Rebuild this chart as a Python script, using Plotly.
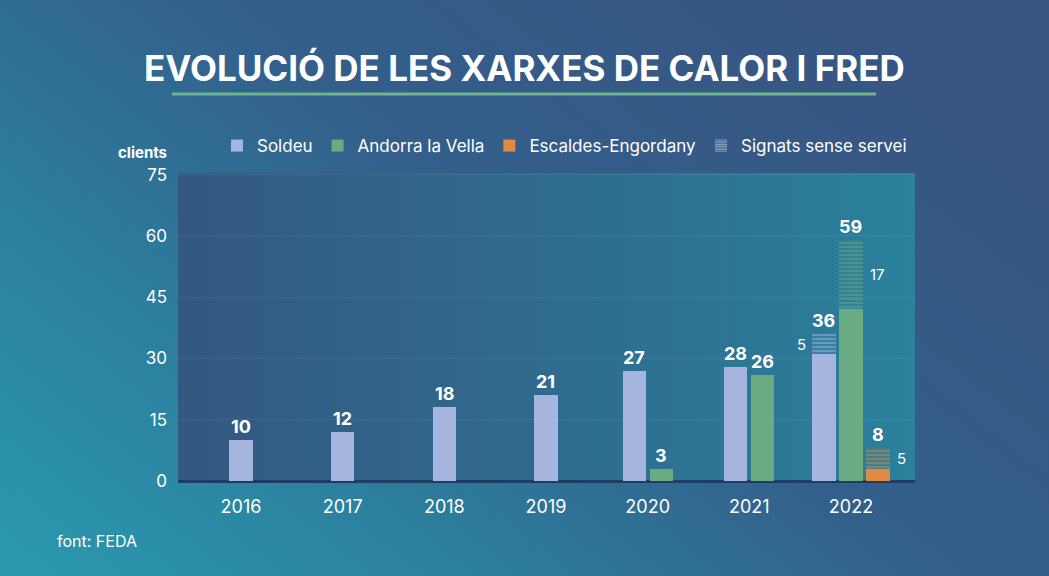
import base64
import plotly.graph_objects as go

# ---------------- data ----------------
years = ["2016", "2017", "2018", "2019", "2020", "2021", "2022"]
series_names = ["Soldeu", "Andorra la Vella", "Escaldes-Engordany"]
soldeu = [10, 12, 18, 21, 27, 28, 31]
andorra = [None, None, None, None, 3, 26, 42]
escaldes = [None, None, None, None, None, None, 3]
# signed clients without service yet (stacked, hatched)
soldeu_pending = [None, None, None, None, None, None, 5]
andorra_pending = [None, None, None, None, None, None, 17]
escaldes_pending = [None, None, None, None, None, None, 5]
y_ticks = [0, 15, 30, 45, 60, 75]
title_text = "EVOLUCIÓ DE LES XARXES DE CALOR I FRED"
legend_pending = "Signats sense servei"
source_text = "font: FEDA"
y_label = "clients"

colors = ["#a5b5de", "#6aab81", "#e08a44"]

# ---------------- geometry ----------------
W, H = 1049, 576
ML, MR, MT, MB = 178, 134, 173, 95
PW, PH = W - ML - MR, H - MT - MB
BAR_W = 0.228
STEP = 0.266
FONT = "Inter, Open Sans, sans-serif"

solid = [soldeu, andorra, escaldes]
pending = [soldeu_pending, andorra_pending, escaldes_pending]


def positions():
    """x position of every bar: bars of each year are centred on the year."""
    pos = [[None] * len(years) for _ in solid]
    for i in range(len(years)):
        present = [s for s in range(len(solid)) if solid[s][i] is not None]
        n = len(present)
        for k, s in enumerate(present):
            pos[s][i] = i + (k - (n - 1) / 2) * STEP
    return pos


pos = positions()

fig = go.Figure()

# solid bars
for s, name in enumerate(series_names):
    xs = [pos[s][i] for i in range(len(years)) if solid[s][i] is not None]
    ys = [solid[s][i] for i in range(len(years)) if solid[s][i] is not None]
    fig.add_trace(go.Bar(x=xs, y=ys, name=name, width=BAR_W,
                         marker=dict(color=colors[s], line=dict(width=0)),
                         hoverinfo="skip"))

# hatched pending parts
for s in range(len(series_names)):
    xs, ys, bs = [], [], []
    for i in range(len(years)):
        if pending[s][i] is not None:
            xs.append(pos[s][i]); ys.append(pending[s][i]); bs.append(solid[s][i])
    fig.add_trace(go.Bar(x=xs, y=ys, base=bs, width=BAR_W, showlegend=False,
                         marker=dict(color=colors[s], line=dict(width=0),
                                     pattern=dict(shape="-", size=4, solidity=0.6,
                                                  fillmode="overlay",
                                                  bgcolor="rgba(0,0,0,0)",
                                                  fgcolor=colors[s])),
                         hoverinfo="skip"))

# legend entry for hatched
fig.add_trace(go.Bar(x=[None], y=[None], name=legend_pending,
                     marker=dict(color="white", line=dict(width=0),
                                 pattern=dict(shape="-", size=3, solidity=0.55,
                                              fillmode="overlay",
                                              bgcolor="rgba(0,0,0,0)",
                                              fgcolor="white"))))

annotations = []
# total labels
for s in range(len(series_names)):
    for i in range(len(years)):
        if solid[s][i] is None:
            continue
        total = solid[s][i] + (pending[s][i] or 0)
        annotations.append(dict(x=pos[s][i], y=total, xref="x", yref="y",
                                text=f"<b>{total}</b>", showarrow=False,
                                yanchor="bottom", yshift=1,
                                font=dict(family=FONT, size=18, color="white", weight=800)))
        if pending[s][i] is not None:
            mid = solid[s][i] + pending[s][i] / 2
            left = (s == 0)
            annotations.append(dict(x=pos[s][i] + (-1 if left else 1) * BAR_W / 2, y=mid,
                                    xref="x", yref="y", text=str(pending[s][i]),
                                    showarrow=False,
                                    xanchor="right" if left else "left",
                                    xshift=-4 if left else 5,
                                    font=dict(family=FONT, size=15, color="white")))

annotations += [
    dict(x=0.5, y=(H - MB - 68) / PH, xref="paper", yref="paper",
         text=f"<b>{title_text}</b>", showarrow=False, yanchor="middle",
         xshift=(W / 2 - (ML + PW / 2)),
         font=dict(family=FONT, size=35, color="white", weight=800)),
    dict(x=-9 / PW, y=(H - MB - 152) / PH, xref="paper", yref="paper",
         text=f"<b>{y_label}</b>", showarrow=False, xanchor="right", yanchor="middle",
         font=dict(family=FONT, size=15, color="white", weight=700)),
    dict(x=(55 - ML) / PW, y=(H - MB - 541) / PH, xref="paper", yref="paper",
         text=source_text, showarrow=False, xanchor="left", yanchor="middle",
         font=dict(family=FONT, size=16, color="white")),
]


def svg_uri(svg):
    return "data:image/svg+xml;base64," + base64.b64encode(svg.encode()).decode()


bg_svg = f"""<svg xmlns='http://www.w3.org/2000/svg' width='{W}' height='{H}' preserveAspectRatio='none'>
<defs><linearGradient id='g' x1='0' y1='1' x2='1' y2='0.3'>
<stop offset='0' stop-color='#2a9aaf'/><stop offset='0.3' stop-color='#2c7f9e'/>
<stop offset='0.6' stop-color='#335f8b'/><stop offset='1' stop-color='#375582'/>
</linearGradient></defs><rect width='{W}' height='{H}' fill='url(#g)'/></svg>"""

plot_svg = f"""<svg xmlns='http://www.w3.org/2000/svg' width='{PW}' height='{PH}' preserveAspectRatio='none'>
<defs><linearGradient id='p' x1='0' y1='0' x2='1' y2='0'>
<stop offset='0' stop-color='#34587f'/><stop offset='0.5' stop-color='#2f6b8e'/>
<stop offset='1' stop-color='#2a819c'/>
</linearGradient></defs><rect width='{PW}' height='{PH}' fill='url(#p)'/></svg>"""

images = [
    dict(source=svg_uri(bg_svg), xref="paper", yref="paper",
         x=-ML / PW, y=(H - MB) / PH, sizex=W / PW, sizey=H / PH,
         xanchor="left", yanchor="top", sizing="stretch", layer="below"),
    dict(source=svg_uri(plot_svg), xref="paper", yref="paper",
         x=0, y=1, sizex=1, sizey=1,
         xanchor="left", yanchor="top", sizing="stretch", layer="below"),
]

shapes = [
    dict(type="line", xref="paper", yref="paper",
         x0=(172 - ML) / PW, x1=(876 - ML) / PW,
         y0=(H - MB - 94) / PH, y1=(H - MB - 94) / PH,
         line=dict(color="#6db58b", width=3)),
]

fig.update_layout(
    width=W, height=H,
    margin=dict(l=ML, r=MR, t=MT, b=MB),
    paper_bgcolor="#2f6f93", plot_bgcolor="rgba(0,0,0,0)",
    barmode="overlay",
    bargap=0,
    font=dict(family=FONT, color="white"),
    showlegend=True,
    legend=dict(orientation="h", x=(217 - ML) / PW, y=(H - MB - 146) / PH,
                xanchor="left", yanchor="middle", bgcolor="rgba(0,0,0,0)",
                font=dict(family=FONT, size=17, color="white"),
                itemwidth=30, traceorder="normal"),
    xaxis=dict(range=[-0.62, len(years) - 1 + 0.63], tickmode="array",
               tickvals=list(range(len(years))), ticktext=years,
               showgrid=False, zeroline=False, showline=False,
               ticks="", tickfont=dict(family=FONT, size=18, color="white"),
               ticklabelstandoff=13, fixedrange=True),
    yaxis=dict(range=[0, 75.4], tickmode="array", tickvals=y_ticks,
               showgrid=True, gridcolor="rgba(255,255,255,0.07)", gridwidth=1,
               zeroline=True, zerolinecolor="#1e3d66", zerolinewidth=3,
               showline=False, ticks="",
               tickfont=dict(family=FONT, size=17, color="white"),
               ticklabelstandoff=10, fixedrange=True),
    annotations=annotations,
    images=images,
    shapes=shapes,
)

fig.write_html("out.html", config={"displayModeBar": False},
               post_script="document.body.style.margin='0';document.body.style.overflow='hidden';")
